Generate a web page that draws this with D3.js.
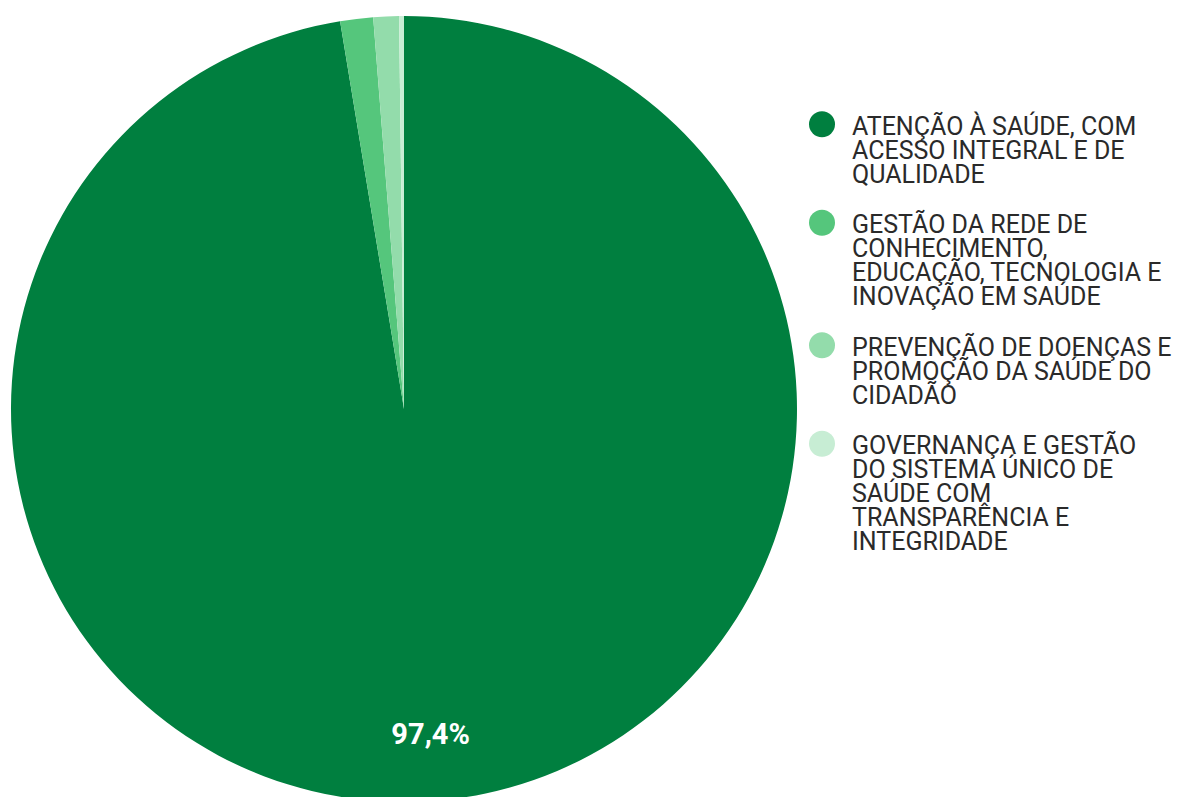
<!DOCTYPE html>
<html>
<head>
<meta charset="utf-8">
<script src="https://cdn.jsdelivr.net/npm/d3@7"></script>
<style>
  html, body { margin: 0; padding: 0; background: #fff; }
  svg { display: block; }
</style>
</head>
<body>
<svg id="chart" width="1182" height="797"></svg>
<script>
const categories = [
  "ATENÇÃO À SAÚDE, COM\nACESSO INTEGRAL E DE\nQUALIDADE",
  "GESTÃO DA REDE DE\nCONHECIMENTO,\nEDUCAÇÃO, TECNOLOGIA E\nINOVAÇÃO EM SAÚDE",
  "PREVENÇÃO DE DOENÇAS E\nPROMOÇÃO DA SAÚDE DO\nCIDADÃO",
  "GOVERNANÇA E GESTÃO\nDO SISTEMA ÚNICO DE\nSAÚDE COM\nTRANSPARÊNCIA E\nINTEGRIDADE"
];
const values = [97.4, 1.35, 1.05, 0.2];
const colors = ["#007f3f", "#55c67c", "#93dcab", "#c7edd4"];
const shownLabels = ["97,4%", "", "", ""];

const svg = d3.select("#chart");
const cx = 404, cy = 409, R = 393;

const data = categories.map((c, i) => ({ cat: c, value: values[i], color: colors[i], label: shownLabels[i] }));
const pie = d3.pie().sort(null).value(d => d.value);
const arcs = pie(data);
const arc = d3.arc().innerRadius(0).outerRadius(R);
const labelArc = d3.arc().innerRadius(R * 0.83).outerRadius(R * 0.83);

const g = svg.append("g").attr("transform", `translate(${cx},${cy})`);
g.selectAll("path").data(arcs).enter().append("path")
  .attr("d", arc).attr("fill", d => d.data.color);

g.selectAll("text.lbl").data(arcs.filter(d => d.data.label)).enter().append("text")
  .attr("class", "lbl")
  .attr("transform", d => `translate(${labelArc.centroid(d)})`)
  .attr("text-anchor", "middle").attr("dy", "0.35em")
  .attr("fill", "#fff")
  .style("font-family", "Roboto, 'Open Sans', sans-serif")
  .style("font-weight", "bold").style("font-size", "29px")
  .text(d => d.data.label);

// legend
const lg = svg.append("g").attr("transform", "translate(822,0)");
const lineH = 24, gap = 26.5;
let y = 116.7;
data.forEach((d, i) => {
  const lines = d.cat.split("\n");
  const item = lg.append("g");
  item.append("circle").attr("cx", 0).attr("cy", y + 7.5).attr("r", 13).attr("fill", d.color);
  const t = item.append("text")
    .attr("x", 30).attr("y", y)
    .attr("fill", "#2a2a2a")
    .style("font-family", "Roboto, sans-serif").style("font-size", "25px");
  lines.forEach((ln, j) => {
    t.append("tspan").attr("x", 30).attr("y", y + j * lineH).attr("dy", "0.72em").text(ln);
  });
  y += lines.length * lineH + gap;
});
</script>
</body>
</html>
